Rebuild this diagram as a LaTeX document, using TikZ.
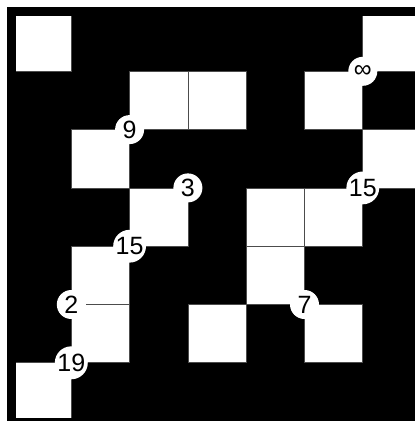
\documentclass[tikz,border=0pt]{standalone}
\usepackage{fontspec}
\setmainfont{Liberation Sans}
\usepackage{tikz}

\tikzset{
  cellline/.style={draw=gray!60!black, line width=0.7pt, fill=white},
  clue/.style={circle, fill=white, inner sep=0pt, minimum size=29pt,
    font=\fontsize{25}{25}\selectfont}
}

\begin{document}
\begin{tikzpicture}[x=1pt,y=-1pt]
 \useasboundingbox (0,0) rectangle (415,421);
 \fill[black] (7,7) rectangle (430,430);
 \begin{scope}[shift={(13,13)}, x=58.3pt, y=-58.3pt]
  % white cells (column/row)
  \foreach \c/\r in {0/0, 6/0, 2/1, 3/1, 5/1, 1/2, 6/2, 2/3, 4/3, 5/3,
                     1/4, 4/4, 1/5, 3/5, 5/5, 0/6}
   \draw[cellline] (\c,\r) rectangle ++(1,1);
  % outer frame
  \draw[black, line width=6pt] (0,0) rectangle (7,7);
  % clues on the corners
  \node[clue] (inf) at (6,1) {∞};
  \node[clue] (nine) at (2,2) {9};
  \node[clue] (three) at (3,3) {3};
  \node[clue] (fifteenR) at (6,3) {15};
  \node[clue] (fifteenL) at (2,4) {15};
  \node[clue] (two) at (1,5) {2};
  \node[clue] (seven) at (5,5) {7};
  \node[clue] (nineteen) at (1,6) {19};
 \end{scope}
\end{tikzpicture}
\end{document}
